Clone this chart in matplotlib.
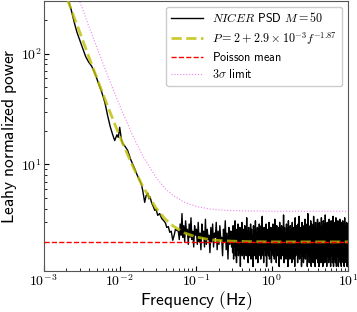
import numpy as np
import matplotlib
matplotlib.use("Agg")
import matplotlib.pyplot as plt
from matplotlib.ticker import FuncFormatter, LogLocator, NullFormatter

plt.rcParams['font.family'] = ['DejaVu Sans']
plt.rcParams['mathtext.fontset'] = 'cm'

# ---- NICER PSD ----
f_lo = [2.0e-3, 2.13e-3, 2.3e-3, 2.56e-3, 2.75e-3, 2.98e-3, 3.25e-3, 3.57e-3, 3.9e-3, 4.28e-3,
        4.55e-3, 4.83e-3, 5.3e-3, 5.8e-3, 6.4e-3, 6.95e-3, 7.5e-3, 8.0e-3, 8.6e-3, 9.2e-3,
        9.6e-3, 1.0e-2, 1.05e-2, 1.09e-2, 1.18e-2, 1.27e-2, 1.4e-2, 1.57e-2, 1.7e-2, 1.83e-2,
        1.92e-2, 2.01e-2, 2.13e-2, 2.22e-2, 2.34e-2, 2.42e-2, 2.5e-2, 2.64e-2, 2.75e-2, 2.89e-2,
        3.0e-2, 3.16e-2, 3.35e-2, 3.57e-2, 3.8e-2, 4.0e-2, 4.15e-2, 4.35e-2, 4.55e-2, 4.75e-2,
        4.98e-2, 5.2e-2, 5.4e-2, 5.62e-2]
p_lo = [360, 300, 250, 185, 155, 133, 112, 94, 84, 77,
        70, 64, 53, 45, 36, 27.5, 22, 19, 16.4, 18.5,
        17.5, 21.6, 17, 15.5, 14.5, 13.4, 11, 9.2, 8.0, 7.2,
        6.7, 5.8, 4.55, 5.2, 5.5, 4.9, 5.1, 4.46, 4.2, 3.85,
        3.95, 3.47, 3.6, 3.25, 3.1, 2.95, 2.7, 2.75, 2.44, 2.5,
        2.07, 2.3, 2.6, 2.54]

f_mid_range = (0.059, 0.295)
p_mid = [2.5, 2.1, 2.9, 2.3, 3.6, 2.2, 2.8, 2.0, 3.1, 2.4, 2.6, 1.9, 2.9, 2.2, 3.3, 2.1, 2.5, 1.8, 2.8, 2.3,
         2.6, 1.9, 3.0, 2.0, 2.4, 1.7, 2.9, 2.2, 2.5, 1.8, 3.2, 1.9, 2.6, 2.1, 2.3, 1.6, 2.7, 2.0, 2.9, 1.8,
         2.4, 2.2, 3.0, 1.7, 2.5, 1.9, 2.8, 2.1, 2.2, 1.5, 2.6, 2.0, 3.1, 1.7, 2.4, 1.4, 2.7, 1.9, 2.5, 1.8]

f_hi_range = (0.3, 10.0)
p_hi = [2.5, 1.6, 2.8, 1.4, 2.3, 1.8, 3.1, 1.5, 2.6, 1.3, 2.4, 1.7, 2.9, 1.5, 2.2, 1.6, 2.7, 1.2, 2.5, 1.8,
        3.0, 1.5, 2.4, 1.6, 2.6, 1.4, 2.8, 1.7, 2.3, 1.5, 3.3, 1.6, 2.5, 1.3, 2.7, 1.8, 2.4, 1.5, 2.9, 1.4,
        2.6, 1.7, 2.3, 1.2, 2.8, 1.5, 2.5, 1.6, 3.1, 1.4, 2.4, 1.7, 2.7, 1.3, 2.6, 1.5, 2.9, 1.6, 2.3, 1.4,
        2.8, 1.5, 3.4, 1.6, 2.5, 1.3, 2.7, 1.7, 2.4, 1.5, 2.9, 1.2, 2.6, 1.6, 2.3, 1.5, 3.0, 1.4, 2.5, 1.7,
        2.7, 1.3, 2.4, 1.6, 2.9, 1.5, 2.6, 1.4, 3.2, 1.7, 2.5, 1.3, 2.8, 1.5, 2.4, 1.6, 2.7, 1.2, 3.0, 1.5,
        2.6, 1.4, 2.8, 1.7, 2.5, 1.5, 3.5, 1.3, 2.7, 1.6, 2.4, 1.4, 2.9, 1.5, 2.6, 1.2, 3.1, 1.6, 2.5, 1.4,
        2.8, 1.5, 2.6, 1.3, 3.0, 1.6, 2.7, 1.4, 2.5, 1.2, 3.3, 1.5, 2.8, 1.6, 2.6, 1.3, 2.9, 1.5, 3.4, 1.4,
        2.7, 1.6, 2.5, 1.2, 3.0, 1.5, 2.8, 1.3, 2.6, 1.5, 3.2, 1.4, 2.9, 1.6, 2.7, 1.2, 3.6, 1.5, 2.8, 1.3,
        2.6, 1.5, 3.1, 1.2, 2.9, 1.6, 2.7, 1.3, 3.4, 1.5, 2.8, 1.2, 3.0, 1.4, 2.6, 1.5, 3.2, 1.3, 2.9, 1.2,
        3.0, 1.5, 2.7, 1.3, 3.3, 1.4, 2.8, 1.2, 3.1, 1.5, 2.9, 1.3, 3.5, 1.4, 2.7, 1.2, 3.0, 1.5, 2.8, 1.3,
        3.2, 1.4, 2.9, 1.2, 3.1, 1.5, 2.7, 1.3, 3.4, 1.2, 2.9, 1.4, 3.0, 1.3, 3.3, 1.2, 2.8, 1.5, 3.1, 1.2,
        2.9, 1.4, 3.2, 1.3, 2.8, 1.2, 3.0, 1.5, 3.1, 1.3, 2.9, 1.2, 3.3, 1.4, 2.8, 1.3, 3.0, 1.2, 2.9, 1.4]

# ---- model curve P = 2 + 2.9e-3 f^-1.87 (read at points) ----
f_model = [2.0e-3, 2.5e-3, 3e-3, 4e-3, 5e-3, 7e-3, 1e-2, 1.5e-2, 2e-2, 3e-2, 4e-2, 5e-2, 7e-2,
           0.1, 0.15, 0.2, 0.3, 0.5, 1.0, 10.0]
p_model = [325, 215, 155, 90.4, 60.3, 33.1, 17.9, 9.47, 6.36, 4.04, 3.19, 2.79, 2.42,
           2.22, 2.10, 2.06, 2.03, 2.01, 2.00, 2.00]

# ---- 3 sigma limit (read at points) ----
f_3s = [2.5e-3, 3e-3, 4e-3, 5e-3, 7e-3, 1e-2, 1.5e-2, 2e-2, 3e-2, 4e-2, 5e-2, 7e-2,
        0.1, 0.15, 0.2, 0.3, 0.5, 1.0, 10.0]
p_3s = [406, 293, 171, 114, 62.5, 33.9, 17.9, 12.0, 7.64, 6.0, 5.27, 4.57,
        4.19, 3.97, 3.89, 3.83, 3.80, 3.785, 3.78]

poisson_mean = 2.0

f_psd = np.concatenate([f_lo, np.geomspace(*f_mid_range, len(p_mid)), np.geomspace(*f_hi_range, len(p_hi))])
p_psd = np.concatenate([p_lo, p_mid, p_hi])

fig = plt.figure(figsize=(3.57, 3.12), dpi=100)
ax = fig.add_axes([0.122, 0.131, 0.853, 0.867])

ax.plot(f_psd, p_psd, color='k', lw=1.0, label=r'$\mathit{NICER}$ $\mathsf{PSD}$ $M=50$', zorder=2)
ax.plot(f_model, p_model, color='y', ls='--', lw=2.0, alpha=0.8,
        label=r'$P=2+2.9\times10^{-3}f^{-1.87}$', zorder=3)
ax.axhline(poisson_mean, color='r', ls='--', lw=1.0, label=r'$\mathsf{Poisson\ mean}$', zorder=4)
ax.plot(f_3s, p_3s, color='violet', ls=':', lw=0.8, label=r'$3\sigma$ $\mathsf{limit}$', zorder=1)

ax.set_xscale('log')
ax.set_yscale('log')
ax.set_xlim(1e-3, 10)
ax.set_ylim(1.09, 300)

fmt = FuncFormatter(lambda v, p: r'$10^{%d}$' % int(round(np.log10(v))))
ax.xaxis.set_major_locator(LogLocator(base=10, numticks=10))
ax.xaxis.set_major_formatter(fmt)
ax.yaxis.set_major_formatter(fmt)
ax.xaxis.set_minor_formatter(NullFormatter())
ax.yaxis.set_minor_formatter(NullFormatter())
ax.tick_params(axis='both', which='major', labelsize=10, direction='in', length=3.5, pad=1.5)
ax.tick_params(axis='both', which='minor', direction='in', length=2)

ax.set_xlabel(r'$\mathsf{Frequency\ (Hz)}$', fontsize=12.5, labelpad=0)
ax.set_ylabel(r'$\mathsf{Leahy\ normalized\ power}$', fontsize=12.5, labelpad=1)

for s in ax.spines.values():
    s.set_color('#555555')

ax.legend(loc='upper right', fontsize=8.7, handlelength=2.6, framealpha=1.0,
          labelspacing=0.35, borderaxespad=0.5, edgecolor='#cccccc')

fig.savefig('out.png', dpi=100)
